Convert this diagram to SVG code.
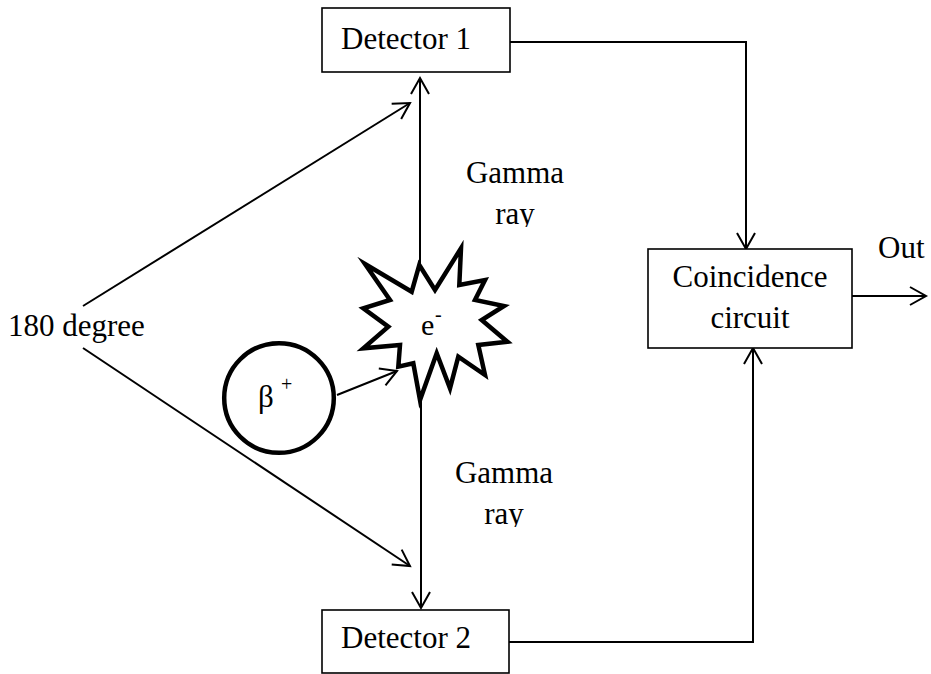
<svg xmlns="http://www.w3.org/2000/svg" width="931" height="674" viewBox="0 0 931 674">
<style>
text{font-family:"Liberation Serif","Times New Roman",serif;font-size:31px;fill:#000}
.box{fill:#fff;stroke:#000;stroke-width:1.6}
.ln{fill:none;stroke:#000;stroke-width:2}
.arr{marker-end:url(#ah)}
</style>
<defs>
<marker id="ah" markerUnits="userSpaceOnUse" markerWidth="40" markerHeight="40" viewBox="-20 -20 40 40" refX="0" refY="0" orient="auto">
<path d="M-16,-9 L0,0 L-16,9" fill="none" stroke="#000" stroke-width="2"/>
</marker>
<clipPath id="clipTop"><rect x="440" y="190" width="150" height="37"/></clipPath>
<clipPath id="clipBot"><rect x="440" y="490" width="150" height="37"/></clipPath>
</defs>
<g id="connectors">
<line class="ln arr" x1="420" y1="265" x2="420" y2="78"/>
<line class="ln arr" x1="421" y1="398" x2="421" y2="608"/>
<line class="ln arr" x1="83" y1="306" x2="410" y2="103"/>
<line class="ln arr" x1="83" y1="348" x2="410" y2="566"/>
<polyline class="ln arr" points="510,42 746,42 746,249"/>
<polyline class="ln arr" points="509,642 753,642 753,348"/>
<line class="ln arr" x1="852" y1="296" x2="926" y2="296"/>
</g>
<g id="detector1">
<rect class="box" x="322" y="8" width="188" height="64"/>
<text x="341" y="49">Detector 1</text>
</g>
<g id="detector2">
<rect class="box" x="322" y="610" width="187" height="63"/>
<text x="341" y="648">Detector 2</text>
</g>
<g id="coincidence">
<rect class="box" x="648" y="249" width="204" height="99"/>
<text x="750" y="287" text-anchor="middle">Coincidence</text>
<text x="750" y="328" text-anchor="middle">circuit</text>
</g>
<g id="out-label"><text x="878" y="258">Out</text></g>
<g id="angle-label"><text x="8" y="336">180 degree</text></g>
<g id="gamma-top">
<text x="515" y="183" text-anchor="middle">Gamma</text>
<text x="515" y="224" text-anchor="middle" clip-path="url(#clipTop)">ray</text>
</g>
<g id="gamma-bottom">
<text x="504" y="483" text-anchor="middle">Gamma</text>
<text x="504" y="524" text-anchor="middle" clip-path="url(#clipBot)">ray</text>
</g>
<g id="electron">
<polygon points="365,264 411.7,291.7 419.3,265 435,290 461,248.3 459.3,285 485,280 475,300 504,306 481.7,320 507.3,341.7 478.3,345 485,375 458.3,356.7 450,388.3 436.7,353.3 420,400 413.3,363.3 398.3,366.7 400,345 363.3,348.3 388.3,326.7 363.3,308.3 390,300" fill="#fff" stroke="#000" stroke-width="4.5" stroke-linejoin="miter" stroke-miterlimit="10"/>
<text x="421" y="335" style="font-size:30px">e</text>
<text x="435" y="321" style="font-size:20px">-</text>
</g>
<g id="positron">
<circle cx="279" cy="398" r="54.8" fill="#fff" stroke="#000" stroke-width="4.5"/>
<text x="258" y="407">β</text>
<text x="281" y="391" style="font-size:20px">+</text>
</g>
<g id="positron-arrow">
<line class="ln arr" x1="337" y1="395" x2="397" y2="371"/>
</g>
</svg>
